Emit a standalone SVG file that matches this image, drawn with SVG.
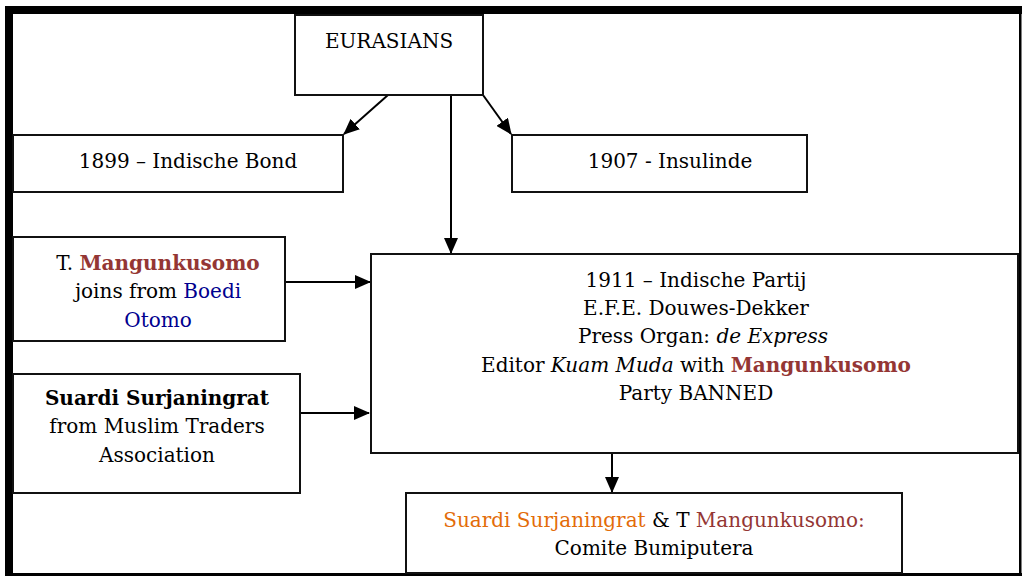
<svg xmlns="http://www.w3.org/2000/svg" width="1022" height="576" viewBox="0 0 1022 576">
<style>
.box{fill:#fff;stroke:#111;stroke-width:2}
.t{font-family:"DejaVu Serif","Liberation Serif",serif;font-size:20px;fill:#000;text-anchor:middle}
.b{font-weight:bold}
.i{font-style:italic}
.red{fill:#943634}
.blue{fill:#00008f}
.org{fill:#e36c09}
.con{stroke:#000;stroke-width:2;fill:none;marker-end:url(#ah)}
</style>
<defs>
<marker id="ah" markerUnits="userSpaceOnUse" markerWidth="16" markerHeight="14" refX="15" refY="7" orient="auto">
<path d="M0,0 L16,7 L0,14 z" fill="#000"/>
</marker>
</defs>
<rect x="0" y="0" width="1022" height="576" fill="#fff"/>
<g id="frame">
<rect x="5" y="6" width="1017" height="8" fill="#000"/>
<rect x="5" y="6" width="8" height="570" fill="#000"/>
<rect x="1019" y="6" width="2.5" height="570" fill="#000"/>
<rect x="5" y="573" width="1017" height="3" fill="#000"/>
</g>
<g id="connectors">
<line class="con" x1="388" y1="95" x2="344" y2="134"/>
<line class="con" x1="483" y1="95" x2="511" y2="134"/>
<line class="con" x1="451" y1="95" x2="451" y2="253"/>
<line class="con" x1="285" y1="282" x2="370" y2="282"/>
<line class="con" x1="295" y1="413" x2="369" y2="413"/>
<line class="con" x1="612" y1="453" x2="612" y2="492"/>
</g>
<g id="eurasians">
<rect class="box" x="295" y="15" width="188" height="80"/>
<text class="t" x="389" y="48">EURASIANS</text>
</g>
<g id="indische-bond">
<rect class="box" x="13" y="135" width="330" height="57"/>
<text class="t" x="188" y="168">1899 – Indische Bond</text>
</g>
<g id="insulinde">
<rect class="box" x="512" y="135" width="295" height="57"/>
<text class="t" x="670" y="168">1907 - Insulinde</text>
</g>
<g id="mangunkusomo">
<rect class="box" x="13" y="237" width="272" height="104"/>
<text class="t" x="158" y="270">T. <tspan class="b red">Mangunkusomo</tspan></text>
<text class="t" x="158" y="298">joins from <tspan class="blue">Boedi</tspan></text>
<text class="t blue" x="158" y="327">Otomo</text>
</g>
<g id="suardi">
<rect class="box" x="13" y="374" width="287" height="119"/>
<text class="t b" x="157" y="405">Suardi Surjaningrat</text>
<text class="t" x="157" y="433">from Muslim Traders</text>
<text class="t" x="157" y="462">Association</text>
</g>
<g id="indische-partij">
<rect class="box" x="371" y="254" width="647" height="199"/>
<text class="t" x="696" y="287">1911 – Indische Partij</text>
<text class="t" x="696" y="315">E.F.E. Douwes-Dekker</text>
<text class="t" x="703" y="343">Press Organ: <tspan class="i">de Express</tspan></text>
<text class="t" x="696" y="372">Editor <tspan class="i">Kuam Muda</tspan> with <tspan class="b red">Mangunkusomo</tspan></text>
<text class="t" x="696" y="400">Party BANNED</text>
</g>
<g id="comite">
<rect class="box" x="406" y="493" width="496" height="80"/>
<text class="t" x="654" y="527"><tspan class="org">Suardi Surjaningrat</tspan> &amp; T <tspan class="red">Mangunkusomo:</tspan></text>
<text class="t" x="654" y="555">Comite Bumiputera</text>
</g>
</svg>
